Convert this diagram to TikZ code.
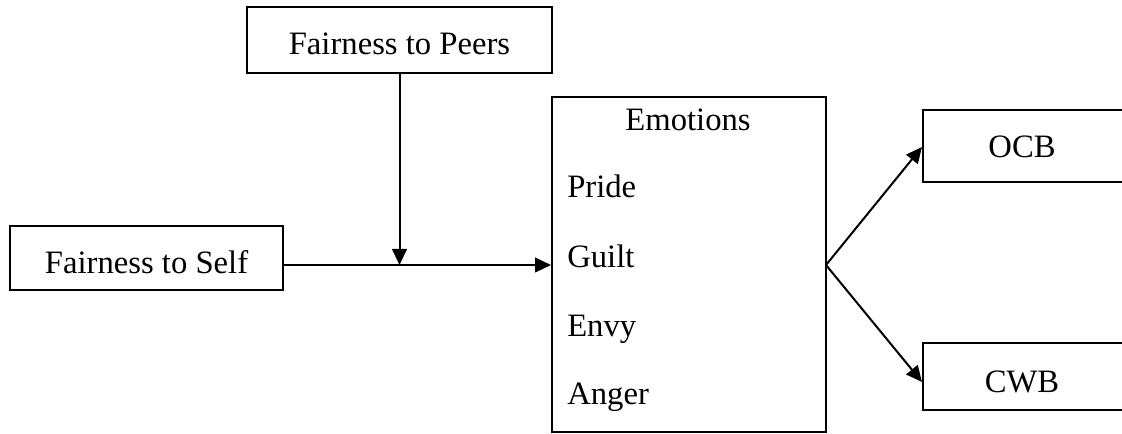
\documentclass[tikz,border=0pt]{standalone}
\usepackage{fontspec}
\setmainfont{Liberation Serif}
\usetikzlibrary{arrows.meta}
\begin{document}
\begin{tikzpicture}[x=0.75pt,y=-0.75pt,
  box/.style={draw, line width=1.5pt, inner sep=0pt},
  lbl/.style={font=\fontsize{24.5}{28}\selectfont, inner sep=0pt},
  arr/.style={line width=1.5pt, -{Triangle[length=12pt,width=11pt]}}]
\useasboundingbox (0,0) rectangle (1122,434);
\clip (0,0) rectangle (1122,434);
% boxes
\node[box, minimum width=228.75pt, minimum height=49.5pt] (peers) at (399.5,40) {};
\node[lbl, anchor=base] (peerst) at (399.5,55) {Fairness to Peers};
\node[box, minimum width=204.75pt, minimum height=48pt] (self) at (146.5,258) {};
\node[lbl, anchor=base] (selft) at (146.5,274) {Fairness to Self};
\node[box, minimum width=205.5pt, minimum height=251.25pt] (emo) at (689,264.5) {};
\node[lbl, anchor=base] (emot) at (688,131) {Emotions};
\node[lbl, anchor=base west] (pride) at (567,198) {Pride};
\node[lbl, anchor=base west] (guilt) at (567,268) {Guilt};
\node[lbl, anchor=base west] (envy) at (567,337) {Envy};
\node[lbl, anchor=base west] (anger) at (567,405) {Anger};
\node[box, anchor=north west, minimum width=165pt, minimum height=54pt] (ocb) at (922,109) {};
\node[lbl, anchor=base] (ocbt) at (1022,158) {OCB};
\node[box, anchor=north west, minimum width=165pt, minimum height=50.25pt] (cwb) at (922,342) {};
\node[lbl, anchor=base] (cwbt) at (1022,393) {CWB};
% connectors
\coordinate (j) at (399.5,265);
\coordinate (b) at (826,265);
\draw[arr] (self.east |- j) -- (j -| emo.west);
\draw[arr] (peers.south) -- (j);
\draw[arr] (b) -- (ocb.west |- 0,147);
\draw[arr] (b) -- (cwb.west |- 0,382);
\end{tikzpicture}
\end{document}
